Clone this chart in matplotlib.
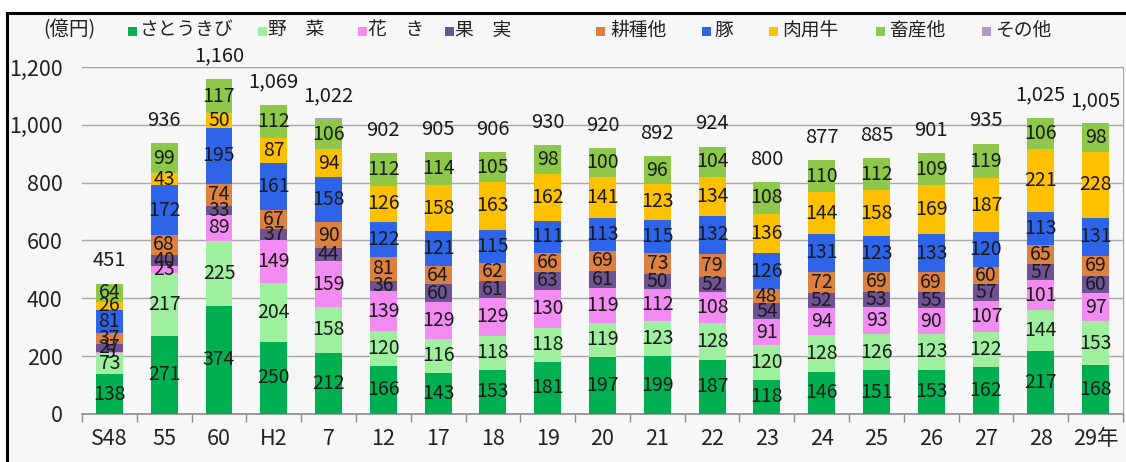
import matplotlib
matplotlib.use("Agg")
import matplotlib.pyplot as plt
from matplotlib.patches import Rectangle
from matplotlib.lines import Line2D
import numpy as np

plt.rcParams['font.family'] = ['Noto Sans CJK JP', 'DejaVu Sans']

categories = ["S48", "55", "60", "H2", "7", "12", "17", "18", "19", "20",
              "21", "22", "23", "24", "25", "26", "27", "28", "29年"]

series_names = ["さとうきび", "野　菜", "花　き", "果　実", "耕種他", "豚", "肉用牛", "畜産他", "その他"]

sugarcane  = [138, 271, 374, 250, 212, 166, 143, 153, 181, 197, 199, 187, 118, 146, 151, 153, 162, 217, 168]
vegetables = [73, 217, 225, 204, 158, 120, 116, 118, 118, 119, 123, 128, 120, 128, 126, 123, 122, 144, 153]
flowers    = [5, 23, 89, 149, 159, 139, 129, 129, 130, 119, 112, 108, 91, 94, 93, 90, 107, 101, 97]
fruits     = [27, 40, 33, 37, 44, 36, 60, 61, 63, 61, 50, 52, 54, 52, 53, 55, 57, 57, 60]
crops_misc = [37, 68, 74, 67, 90, 81, 64, 62, 66, 69, 73, 79, 48, 72, 69, 69, 60, 65, 69]
pigs       = [81, 172, 195, 161, 158, 122, 121, 115, 111, 113, 115, 132, 126, 131, 123, 133, 120, 113, 131]
beef       = [26, 43, 50, 87, 94, 126, 158, 163, 162, 141, 123, 134, 136, 144, 158, 169, 187, 221, 228]
livestock  = [64, 99, 117, 112, 106, 112, 114, 105, 98, 100, 96, 104, 108, 110, 112, 109, 119, 106, 98]
others     = [0, 3, 3, 2, 1, 0, 0, 0, 1, 1, 1, 0, 0, 0, 0, 0, 1, 1, 1]
totals     = [451, 936, 1160, 1069, 1022, 902, 905, 906, 930, 920, 892, 924, 800, 877, 885, 901, 935, 1025, 1005]

yticks = [0, 200, 400, 600, 800, 1000, 1200]

colors = ["#00B050", "#9EF09E", "#F28CF2", "#6E5294", "#DD8040",
          "#2E64E8", "#FFC000", "#8DC84A", "#A99CC6"]

all_series = [sugarcane, vegetables, flowers, fruits, crops_misc, pigs, beef, livestock, others]

W, H = 1126, 462
fig = plt.figure(figsize=(W / 100, H / 100), dpi=100)
fig.patch.set_facecolor("white")

# framed panel background
panel_bg = "#F7F7F7"
fig.patches.append(Rectangle((7 / W, 0), 1 - 7 / W, 1 - 13 / H, transform=fig.transFigure,
                             facecolor=panel_bg, edgecolor="none", zorder=-5))
fig.lines.append(Line2D([7 / W, 7 / W], [0, 1 - 13 / H], transform=fig.transFigure,
                        color="black", lw=2.2, zorder=-4))
fig.lines.append(Line2D([7 / W, 1], [1 - 13 / H, 1 - 13 / H], transform=fig.transFigure,
                        color="black", lw=2.2, zorder=-4))

ax = fig.add_axes([82 / W, 1 - 414 / H, (1123 - 82) / W, (414 - 67) / H])
ax.set_zorder(2)
ax.set_facecolor(panel_bg)

x = np.arange(len(categories))
bar_w = 0.49
bottom = np.zeros(len(categories))
label_fs = 14
for i, (vals, col) in enumerate(zip(all_series, colors)):
    vals = np.array(vals, dtype=float)
    ax.bar(x, vals, bar_w, bottom=bottom, color=col, edgecolor="none", zorder=3)
    if i < 8:
        for xi, b, v in zip(x, bottom, vals):
            ax.text(xi, b + v / 2, f"{int(v)}", ha="center", va="center",
                    fontsize=label_fs, color="#1A1A1A", zorder=5)
    bottom += vals

for xi, t, top in zip(x, totals, bottom):
    ax.annotate(f"{t:,}", (xi, top), xytext=(0, 16.5), textcoords="offset points",
                ha="center", va="center", fontsize=14.5, color="#1A1A1A", zorder=5)

ax.set_xlim(-0.5, len(categories) - 0.5)
ax.set_ylim(0, 1200)
ax.set_yticks(yticks)
ax.set_yticklabels([f"{v:,}" for v in yticks], fontsize=15.5, color="#222222")
ax.yaxis.grid(True, color="#A6A6A6", lw=1.0, zorder=1)
ax.set_axisbelow(True)
ax.tick_params(axis="y", length=0, pad=14)

ax.set_xticks(x)
ax.set_xticklabels(categories, fontsize=15.5, color="#222222")
ax.set_xticks(np.arange(-0.5, len(categories), 1.0), minor=True)
ax.tick_params(axis="x", which="major", length=0, pad=10)
ax.tick_params(axis="x", which="minor", length=6, color="#8C8C8C", width=1.0, direction="out")

ax.spines["left"].set_visible(False)
ax.spines["top"].set_color("#A6A6A6")
ax.spines["right"].set_color("#A6A6A6")
ax.spines["bottom"].set_color("#8C8C8C")
ax.spines["bottom"].set_linewidth(1.2)

# legend row drawn across the top
ly = 1 - 30 / H
fig.text(43 / W, ly, "(億円)", fontsize=14, ha="left", va="center", color="#222222")
legend_sq = [128, 258, 358, 445, 596, 702, 769, 876, 982]
legend_tx = [139, 268, 368, 455, 610, 714, 782, 889, 995]
sq = 9
for name, col, sx, tx in zip(series_names, colors, legend_sq, legend_tx):
    fig.patches.append(Rectangle((sx / W, (H - 31 - sq / 2) / H), sq / W, sq / H,
                                 transform=fig.transFigure, facecolor=col,
                                 edgecolor="none", zorder=3))
    fig.text(tx / W, ly, name, fontsize=13.5, ha="left", va="center", color="#222222")

fig.savefig("out.png", dpi=100, facecolor=fig.get_facecolor())
